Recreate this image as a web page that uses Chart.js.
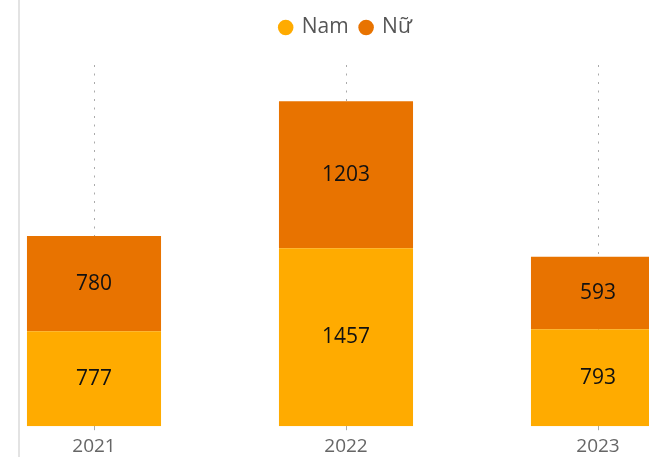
<!DOCTYPE html>
<html>
<head>
<meta charset="utf-8">
<script src="https://cdn.jsdelivr.net/npm/chart.js@4"></script>
<style>
    html, body { margin: 0; padding: 0; background: #fff; }
    #wrap { position: relative; width: 649px; height: 457px; overflow: hidden; }
    #box { position: absolute; left: -32px; top: 0; width: 756px; height: 465px; }
    #edge { position: absolute; left: 18px; top: 0; width: 2px; height: 457px; background: #e3e3e3; }
</style>
</head>
<body>
<div id="wrap">
    <div id="box"><canvas id="genderChart"></canvas></div>
    <div id="edge"></div>
</div>
<script>
// Data
const years = ['2021', '2022', '2023'];
const namCounts = [777, 1457, 793];
const nuCounts = [780, 1203, 593];

// Draw the value in the middle of each bar segment
const barLabels = {
    id: 'barLabels',
    afterDatasetsDraw(chart) {
        const ctx = chart.ctx;
        ctx.save();
        ctx.font = '21px "Open Sans", sans-serif';
        ctx.fillStyle = '#111';
        ctx.textAlign = 'center';
        ctx.textBaseline = 'middle';
        chart.data.datasets.forEach((ds, i) => {
            chart.getDatasetMeta(i).data.forEach((bar, j) => {
                const mid = (bar.y + bar.base) / 2;
                ctx.fillText(ds.data[j], bar.x, mid);
            });
        });
        ctx.restore();
    }
};

// Extra room under the legend
const legendGap = {
    id: 'legendGap',
    beforeInit(chart) {
        const fit = chart.legend.fit;
        chart.legend.fit = function () {
            fit.bind(chart.legend)();
            this.height += 17;
        };
    }
};

const ctx = document.getElementById('genderChart').getContext('2d');
const genderChart = new Chart(ctx, {
    type: 'bar',
    data: {
        labels: years,
        datasets: [
            {
                label: 'Nam',
                data: namCounts,
                backgroundColor: '#FFAB00',
                barPercentage: 0.532,
                categoryPercentage: 1
            },
            {
                label: 'Nữ',
                data: nuCounts,
                backgroundColor: '#E87300',
                barPercentage: 0.532,
                categoryPercentage: 1
            }
        ]
    },
    options: {
        responsive: true,
        maintainAspectRatio: false,
        animation: false,
        layout: {
            padding: { top: 5, bottom: 2 }
        },
        plugins: {
            tooltip: { enabled: false },
            legend: {
                position: 'top',
                labels: {
                    usePointStyle: true,
                    pointStyle: 'circle',
                    boxWidth: 11,
                    boxHeight: 11,
                    padding: 12,
                    color: '#555',
                    font: { family: '"Open Sans", sans-serif', size: 21 }
                }
            }
        },
        scales: {
            x: {
                stacked: true,
                border: { display: false },
                grid: {
                    offset: false,
                    color: '#aaaaaa',
                    lineWidth: 1,
                    tickLength: 4
                },
                ticks: {
                    color: '#666',
                    padding: 5,
                    font: { family: '"Open Sans", sans-serif', size: 19 }
                }
            },
            y: {
                stacked: true,
                display: false,
                min: 0,
                max: 2956
            }
        }
    },
    plugins: [barLabels, legendGap]
});

// dotted gridlines
genderChart.options.scales.x.grid.borderDash = [2, 6.5];
genderChart.options.scales.x.border.dash = [2, 6.5];
genderChart.update();
</script>
</body>
</html>
